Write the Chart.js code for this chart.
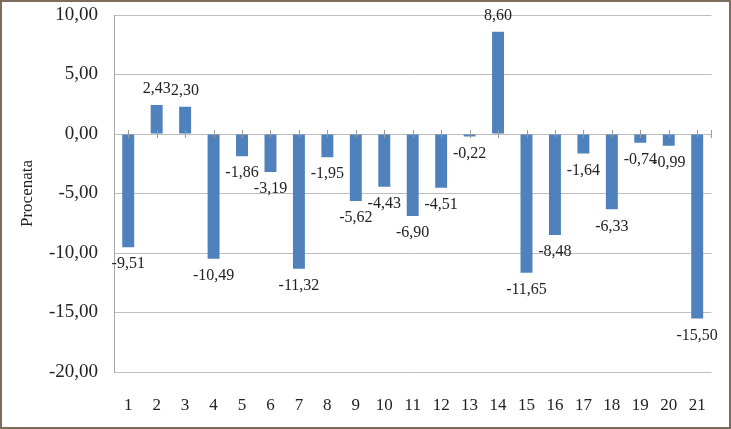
<!DOCTYPE html>
<html>
<head>
<meta charset="utf-8">
<script src="https://cdn.jsdelivr.net/npm/chart.js@4"></script>
<style>
    html, body { margin: 0; padding: 0; background: #fff; }
    #wrap {
        width: 731px;
        height: 429px;
        box-sizing: border-box;
        border: 2px solid #7d6d5d;
        background: #fff;
    }
    canvas { display: block; }
</style>
</head>
<body>
<div id="wrap"><canvas id="chart" width="727" height="425"></canvas></div>
<script>
const categories = ['1', '2', '3', '4', '5', '6', '7', '8', '9', '10', '11', '12', '13', '14', '15', '16', '17', '18', '19', '20', '21'];
const values = [-9.51, 2.43, 2.30, -10.49, -1.86, -3.19, -11.32, -1.95, -5.62, -4.43, -6.90, -4.51, -0.22, 8.60, -11.65, -8.48, -1.64, -6.33, -0.74, -0.99, -15.50];
const yTicks = [10, 5, 0, -5, -10, -15, -20];

let barColor = '#4f81bd';
let gridColor = '#bdbdbd';
let textColor = '#222222';
const serif = "'Liberation Serif', 'Times New Roman', serif";

function fmt(v) {
    return v.toFixed(2).replace('.', ',');
}

// value labels outside the bar ends
const valueLabels = {
    id: 'valueLabels',
    afterDatasetsDraw(chart) {
        const ctx = chart.ctx;
        const meta = chart.getDatasetMeta(0);
        ctx.save();
        ctx.font = '16px ' + serif;
        ctx.fillStyle = textColor;
        ctx.textAlign = 'center';
        ctx.textBaseline = 'middle';
        meta.data.forEach((bar, i) => {
            const v = values[i];
            const y = v >= 0 ? bar.y - 16 : bar.y + 17;
            ctx.fillText(fmt(v), bar.x, y);
        });
        ctx.restore();
    }
};

// small tick marks crossing the zero line
const zeroTicks = {
    id: 'zeroTicks',
    afterDatasetsDraw(chart) {
        const ctx = chart.ctx;
        const x = chart.scales.x;
        const y0 = chart.scales.y.getPixelForValue(0);
        ctx.save();
        ctx.strokeStyle = '#9a9a9a';
        ctx.lineWidth = 1;
        ctx.beginPath();
        for (let i = 0; i < categories.length; i++) {
            const px = Math.round(x.getPixelForValue(i)) + 0.5;
            ctx.moveTo(px, y0 - 4);
            ctx.lineTo(px, y0 + 4);
        }
        const end = Math.round(chart.chartArea.right) + 0.5;
        ctx.moveTo(end, y0 - 4);
        ctx.lineTo(end, y0 + 4);
        ctx.stroke();
        ctx.restore();
    }
};

const ctx = document.getElementById('chart').getContext('2d');
const chart = new Chart(ctx, {
    type: 'bar',
    data: {
        labels: categories,
        datasets: [{
            data: values,
            backgroundColor: barColor,
            borderWidth: 0,
            barPercentage: 0.42,
            categoryPercentage: 1
        }]
    },
    options: {
        responsive: false,
        animation: false,
        layout: { padding: { top: 13, right: 13, left: 0, bottom: 0 } },
        plugins: {
            legend: { display: false },
            tooltip: { enabled: false }
        },
        scales: {
            x: {
                afterFit(scale) { scale.height = 55; },
                grid: { display: false, drawTicks: false },
                border: { display: false },
                ticks: {
                    color: textColor,
                    font: { family: serif, size: 17 },
                    padding: 23,
                    maxRotation: 0,
                    autoSkip: false
                }
            },
            y: {
                min: -20,
                max: 10,
                afterFit(scale) {
                    scale.width = 112;
                    scale.paddingTop = 0;
                    scale.paddingBottom = 0;
                },
                afterBuildTicks(scale) {
                    scale.ticks = yTicks.map(v => ({ value: v }));
                },
                grid: { color: gridColor, drawTicks: false },
                border: { display: true, color: '#a6a6a6' },
                ticks: {
                    color: textColor,
                    font: { family: serif, size: 19 },
                    padding: 16,
                    callback: v => fmt(v)
                },
                title: {
                    display: true,
                    text: 'Procenata',
                    color: textColor,
                    font: { family: serif, size: 17, weight: 'normal' },
                    padding: { top: 15, bottom: 0 }
                }
            }
        }
    },
    plugins: [valueLabels, zeroTicks]
});
</script>
</body>
</html>
